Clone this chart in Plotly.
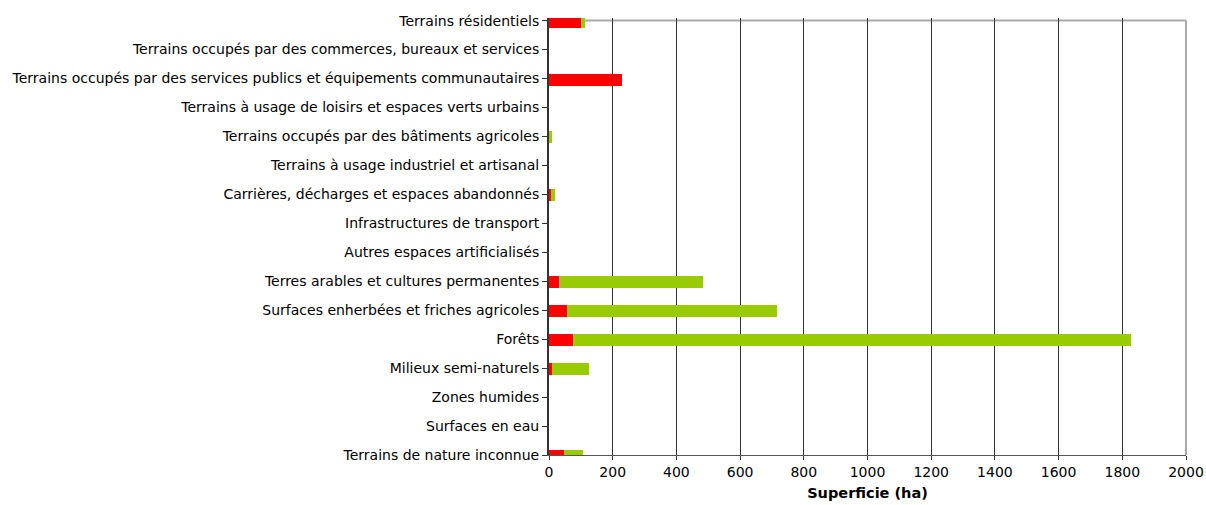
import plotly.graph_objects as go

categories = [
    "Terrains résidentiels",
    "Terrains occupés par des commerces, bureaux et services",
    "Terrains occupés par des services publics et équipements communautaires",
    "Terrains à usage de loisirs et espaces verts urbains",
    "Terrains occupés par des bâtiments agricoles",
    "Terrains à usage industriel et artisanal",
    "Carrières, décharges et espaces abandonnés",
    "Infrastructures de transport",
    "Autres espaces artificialisés",
    "Terres arables et cultures permanentes",
    "Surfaces enherbées et friches agricoles",
    "Forêts",
    "Milieux semi-naturels",
    "Zones humides",
    "Surfaces en eau",
    "Terrains de nature inconnue",
]
red_values = [100, 0, 229, 0, 1, 0, 5, 0, 0, 32, 56, 75, 9, 0, 0, 47]
grey_values = [0, 0, 0, 0, 0, 0, 0, 0, 0, 4, 0, 0, 0, 0, 0, 0]
green_values = [13, 0, 0, 0, 7, 0, 13, 0, 0, 447, 660, 1752, 117, 0, 0, 60]
x_ticks = [0, 200, 400, 600, 800, 1000, 1200, 1400, 1600, 1800, 2000]

fig = go.Figure()
for vals, col, name in [(red_values, "#FF0000", "rouge"),
                        (grey_values, "#A6A6A6", "gris"),
                        (green_values, "#99CC00", "vert")]:
    fig.add_trace(go.Bar(y=categories, x=vals, orientation="h",
                         width=0.415, offset=-0.242,
                         marker=dict(color=col, line=dict(width=0)), name=name,
                         showlegend=False))

n = len(categories)
font = "DejaVu Sans, Verdana, sans-serif"
fig.update_layout(
    barmode="stack",
    width=1206, height=505,
    margin=dict(l=549, r=20, t=18, b=50, autoexpand=False),
    plot_bgcolor="white", paper_bgcolor="white",
    font=dict(family=font, size=14, color="#000000"),
    xaxis=dict(range=[0, 2000], tickvals=x_ticks, showgrid=True, automargin=False,
               gridcolor="#333333", gridwidth=1, zeroline=False,
               showline=True, linecolor="#555555", linewidth=1, mirror=False,
               ticks="outside", ticklen=4, tickcolor="#333333",
               title=dict(text="<b>Superficie (ha)</b>", font=dict(size=14.5), standoff=9),
               tickfont=dict(size=14)),
    yaxis=dict(categoryorder="array", categoryarray=categories[::-1], automargin=False,
               range=[0, n - 1 + 0.09], showgrid=False, zeroline=False,
               showline=True, linecolor="#333333", linewidth=2,
               ticks="outside", ticklen=5, tickcolor="#333333",
               tickfont=dict(size=14)),
    shapes=[
        dict(type="line", xref="paper", yref="y", x0=0, x1=1, y0=n - 1, y1=n - 1,
             line=dict(color="#AAAAAA", width=2), layer="below"),
        dict(type="line", xref="paper", yref="y", x0=1, x1=1, y0=0, y1=n - 1,
             line=dict(color="#AAAAAA", width=2)),
    ],
)
fig.write_html("out.html",
               config={"displayModeBar": False},
               post_script="document.body.style.margin='0px';document.body.style.overflow='hidden';")
